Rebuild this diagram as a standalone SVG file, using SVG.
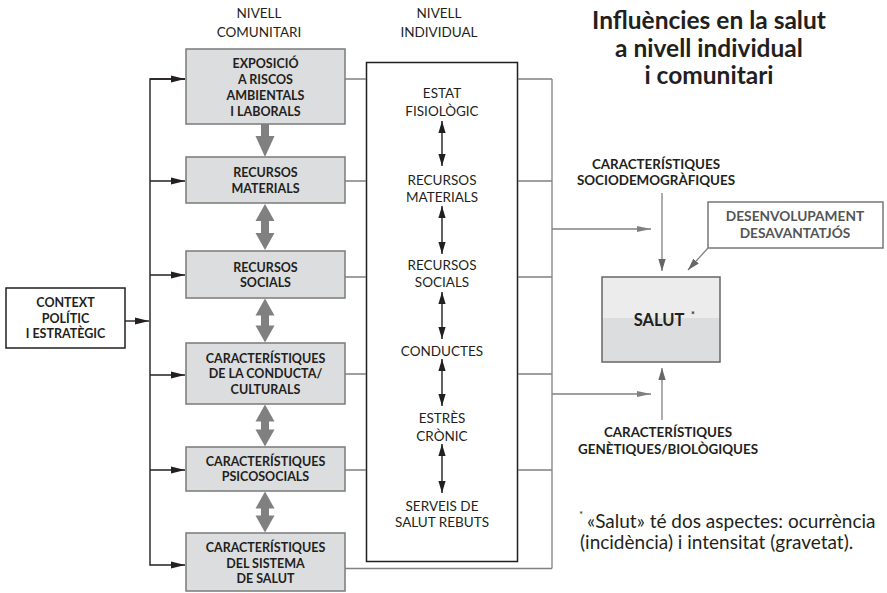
<svg xmlns="http://www.w3.org/2000/svg" width="887" height="593" viewBox="0 0 887 593">
<style>
text{font-family:Lato,"Liberation Sans",sans-serif;fill:#231f20}
.b{font-weight:bold;font-size:12.5px;text-anchor:middle}
.b2{font-weight:bold;font-size:13.4px;text-anchor:middle}
.r{font-size:13.5px;text-anchor:middle}
.t{font-weight:bold;font-size:24.5px;text-anchor:middle}
.gb{fill:#dcdddf;stroke:#7a7a7a;stroke-width:1.5}
.wb{fill:#fff;stroke:#231f20;stroke-width:1.5}
.gl{fill:none;stroke:#808080;stroke-width:1.3}
.bl{fill:none;stroke:#231f20;stroke-width:1.4}
.ga{fill:#808080}
</style>
<defs>
<marker id="ab" markerUnits="userSpaceOnUse" markerWidth="14" markerHeight="8" refX="14" refY="4" orient="auto"><path d="M0,0.6 L14,4 L0,7.4 Z" fill="#231f20"/></marker>
<marker id="as" markerUnits="userSpaceOnUse" markerWidth="12" markerHeight="8" refX="12" refY="4" orient="auto-start-reverse"><path d="M0,0.4 L12,4 L0,7.6 Z" fill="#231f20"/></marker>
<marker id="ag" markerUnits="userSpaceOnUse" markerWidth="14" markerHeight="8" refX="14" refY="4" orient="auto"><path d="M0,1 L14,4 L0,7 Z" fill="#808080"/></marker>
<marker id="av" markerUnits="userSpaceOnUse" markerWidth="12" markerHeight="8" refX="12" refY="4" orient="auto"><path d="M0,0.3 L12,4 L0,7.7 Z" fill="#666"/></marker>
<linearGradient id="sg" x1="0" y1="0" x2="0" y2="1"><stop offset="0.48" stop-color="#ececec"/><stop offset="0.48" stop-color="#dcdddf"/></linearGradient>
</defs>

<text class="r" x="259" y="18.3">NIVELL</text>
<text class="r" x="259" y="37.3">COMUNITARI</text>
<text class="r" x="439" y="18.3">NIVELL</text>
<text class="r" x="439" y="37.3">INDIVIDUAL</text>
<text class="t" x="709" y="29.3">Influències en la salut</text>
<text class="t" x="709" y="56.7">a nivell individual</text>
<text class="t" x="709" y="84.2">i comunitari</text>

<g id="context">
<rect class="wb" x="6" y="288" width="119" height="60"/>
<text class="b" x="65.5" y="307.3">CONTEXT</text>
<text class="b" x="65.5" y="322.7">POLÍTIC</text>
<text class="b" x="65.5" y="338.3">I ESTRATÈGIC</text>
</g>
<g id="exposicio">
<rect class="gb" x="186" y="49" width="159" height="75"/>
<text class="b" x="265.5" y="68.3">EXPOSICIÓ</text>
<text class="b" x="265.5" y="84">A RISCOS</text>
<text class="b" x="265.5" y="100">AMBIENTALS</text>
<text class="b" x="265.5" y="115.5">I LABORALS</text>
</g>
<g id="recursos-materials">
<rect class="gb" x="186" y="157" width="159" height="46"/>
<text class="b" x="265.5" y="176.7">RECURSOS</text>
<text class="b" x="265.5" y="193.3">MATERIALS</text>
</g>
<g id="recursos-socials">
<rect class="gb" x="186" y="251" width="159" height="47"/>
<text class="b" x="265.5" y="271.7">RECURSOS</text>
<text class="b" x="265.5" y="287.3">SOCIALS</text>
</g>
<g id="conducta">
<rect class="gb" x="186" y="343" width="159" height="61"/>
<text class="b" x="265.5" y="363">CARACTERÍSTIQUES</text>
<text class="b" x="265.5" y="378.3">DE LA CONDUCTA/</text>
<text class="b" x="265.5" y="393.5">CULTURALS</text>
</g>
<g id="psicosocials">
<rect class="gb" x="186" y="447" width="159" height="44"/>
<text class="b" x="265.5" y="466">CARACTERÍSTIQUES</text>
<text class="b" x="265.5" y="481">PSICOSOCIALS</text>
</g>
<g id="sistema">
<rect class="gb" x="186" y="533" width="159" height="58"/>
<text class="b" x="265.5" y="551.7">CARACTERÍSTIQUES</text>
<text class="b" x="265.5" y="567.5">DEL SISTEMA</text>
<text class="b" x="265.5" y="583">DE SALUT</text>
</g>
<g id="individual">
<rect class="wb" x="366.5" y="62.5" width="151" height="499"/>
<text class="r" x="442" y="98.3">ESTAT</text>
<text class="r" x="442" y="115.7">FISIOLÒGIC</text>
<text class="r" x="442" y="185">RECURSOS</text>
<text class="r" x="442" y="201.7">MATERIALS</text>
<text class="r" x="442" y="270">RECURSOS</text>
<text class="r" x="442" y="287">SOCIALS</text>
<text class="r" x="442" y="356">CONDUCTES</text>
<text class="r" x="442" y="423.3">ESTRÈS</text>
<text class="r" x="442" y="440.7">CRÒNIC</text>
<text class="r" x="442" y="510.7">SERVEIS DE</text>
<text class="r" x="442" y="527">SALUT REBUTS</text>
</g>
<g id="salut">
<rect x="602" y="277" width="118" height="85" fill="url(#sg)" stroke="#666" stroke-width="1.5"/>
<text x="659" y="326" style="font-weight:bold;font-size:16.5px;text-anchor:middle">SALUT</text>
<text x="691" y="318" style="font-weight:bold;font-size:9px">*</text>
</g>
<g id="sociodemografiques">
<text class="b2" x="656" y="169">CARACTERÍSTIQUES</text>
<text class="b2" x="656" y="185">SOCIODEMOGRÀFIQUES</text>
</g>
<g id="desenvolupament">
<rect x="708" y="202" width="175" height="46" fill="#fff" stroke="#777" stroke-width="1.5"/>
<text class="b2" x="795" y="221" style="fill:#555;font-size:13.7px">DESENVOLUPAMENT</text>
<text class="b2" x="795" y="237.5" style="fill:#555;font-size:13.7px">DESAVANTATJÓS</text>
</g>
<g id="genetiques">
<text class="b2" x="668" y="437">CARACTERÍSTIQUES</text>
<text class="b2" x="668" y="454">GENÈTIQUES/BIOLÒGIQUES</text>
</g>
<g id="footnote">
<text x="579" y="518" style="font-size:10px">*</text>
<text x="587" y="528" style="font-size:19px">«Salut» té dos aspectes: ocurrència</text>
<text x="580" y="549" style="font-size:19px">(incidència) i intensitat (gravetat).</text>
</g>

<g id="connectors">
<polyline class="bl" points="185,79 150,79 150,565 185,565" marker-end="url(#ab)"/>
<line class="bl" x1="150" y1="79" x2="185" y2="79" marker-end="url(#ab)"/>
<line class="bl" x1="150" y1="181" x2="185" y2="181" marker-end="url(#ab)"/>
<line class="bl" x1="150" y1="275" x2="185" y2="275" marker-end="url(#ab)"/>
<line class="bl" x1="150" y1="375" x2="185" y2="375" marker-end="url(#ab)"/>
<line class="bl" x1="150" y1="470" x2="185" y2="470" marker-end="url(#ab)"/>
<line class="bl" x1="125" y1="321" x2="149" y2="321" marker-end="url(#ab)"/>
<polygon class="ga" points="261,124 269,124 269,136 274.5,136 265,157 255.5,136 261,136"/>
<polygon class="ga" points="265,204 274.5,221 269,221 269,233 274.5,233 265,250 255.5,233 261,233 261,221 255.5,221"/>
<polygon class="ga" points="265,298.5 274.5,315.5 269,315.5 269,325.5 274.5,325.5 265,342.5 255.5,325.5 261,325.5 261,315.5 255.5,315.5"/>
<polygon class="ga" points="265,404.5 274.5,421.5 269,421.5 269,429.5 274.5,429.5 265,446.5 255.5,429.5 261,429.5 261,421.5 255.5,421.5"/>
<polygon class="ga" points="265,491.5 274.5,508.5 269,508.5 269,515.5 274.5,515.5 265,532.5 255.5,515.5 261,515.5 261,508.5 255.5,508.5"/>
<path class="gl" d="M345,79H366M345,181H366M345,277H366M345,374H366M345,470H366M518,79H552M518,181H552M518,277H552M518,374H552M518,470H552M552,79V568.5M345,568.5H552"/>
<line class="gl" x1="552" y1="229" x2="651" y2="229" marker-end="url(#ag)"/>
<line class="gl" x1="552" y1="394" x2="651" y2="394" marker-end="url(#ag)"/>
<line class="gl" x1="662" y1="193" x2="662" y2="271" stroke="#666" marker-end="url(#av)"/>
<line class="gl" x1="662" y1="420" x2="662" y2="368" stroke="#666" marker-end="url(#av)"/>
<line class="gl" x1="708" y1="248" x2="688" y2="270" stroke="#666" marker-end="url(#av)"/>
<line class="bl" x1="442" y1="121" x2="442" y2="166" marker-start="url(#as)" marker-end="url(#as)"/>
<line class="bl" x1="442" y1="206" x2="442" y2="254" marker-start="url(#as)" marker-end="url(#as)"/>
<line class="bl" x1="442" y1="292" x2="442" y2="339" marker-start="url(#as)" marker-end="url(#as)"/>
<line class="bl" x1="442" y1="359" x2="442" y2="406" marker-start="url(#as)" marker-end="url(#as)"/>
<line class="bl" x1="442" y1="444" x2="442" y2="493" marker-start="url(#as)" marker-end="url(#as)"/>
</g>
</svg>
